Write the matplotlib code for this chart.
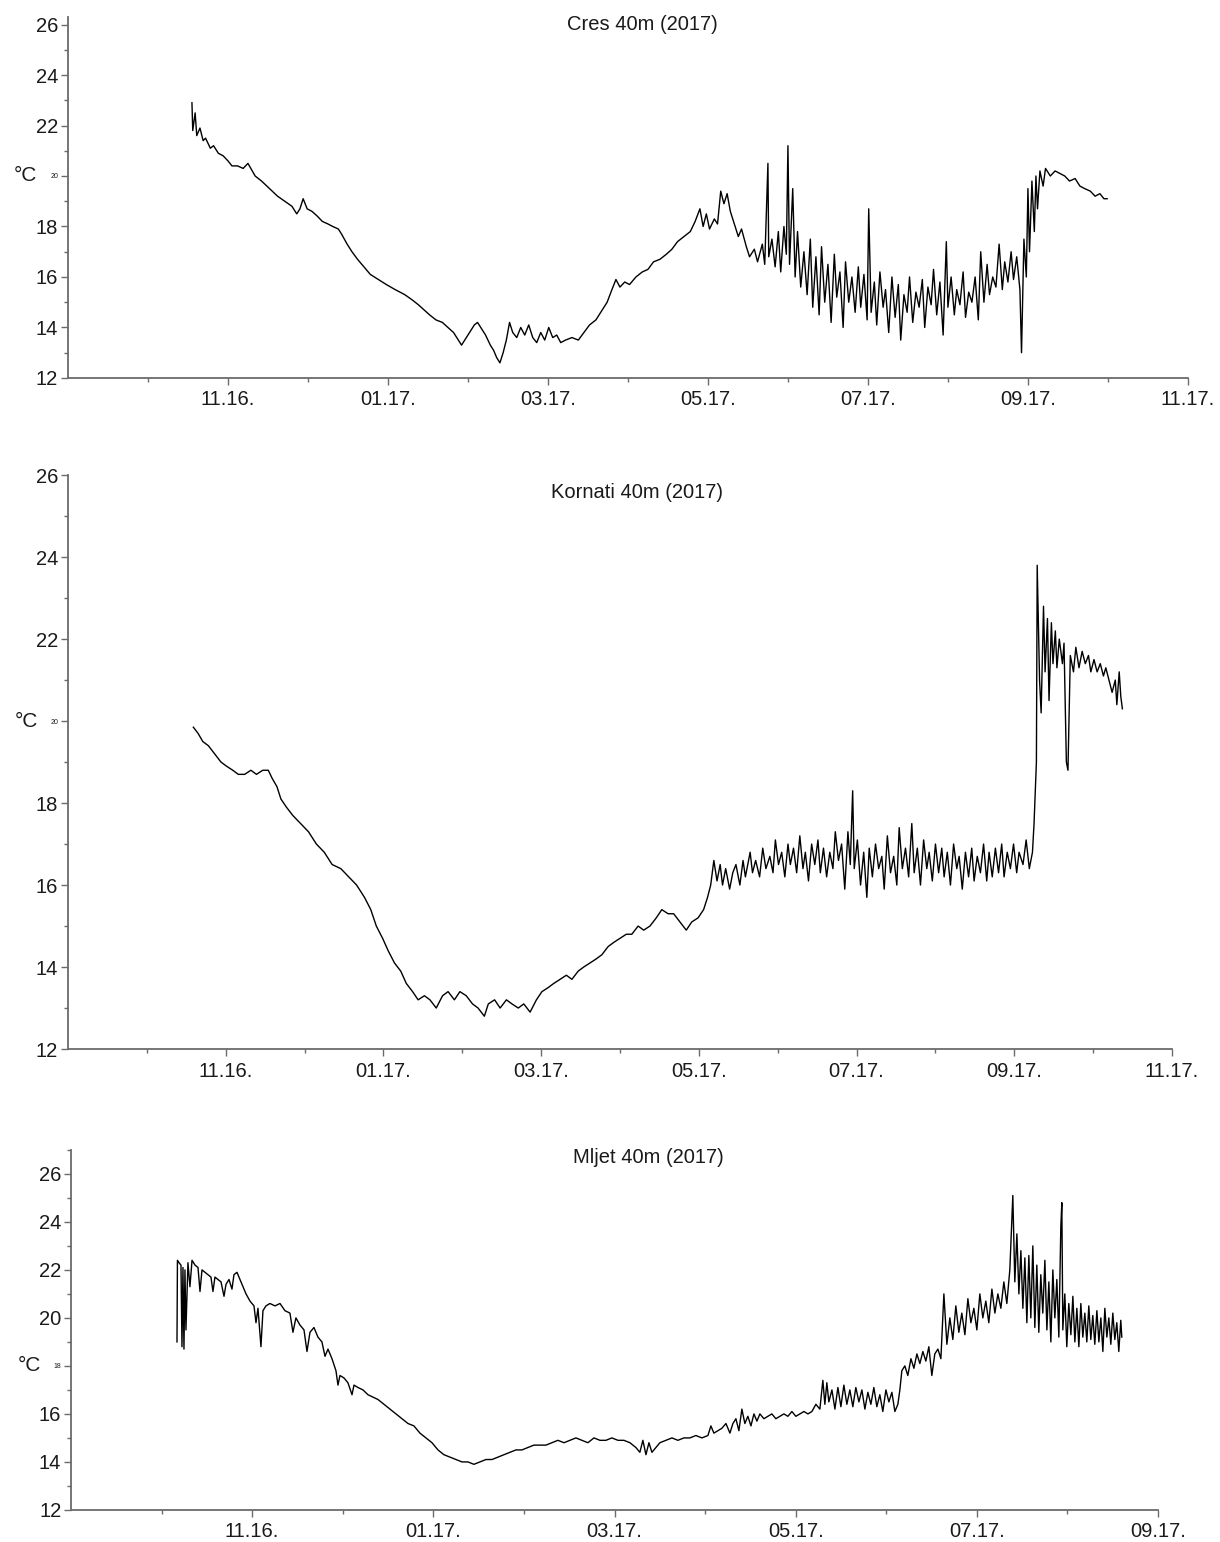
import matplotlib
matplotlib.use("Agg")
import matplotlib.pyplot as plt
from matplotlib.ticker import FixedLocator, MultipleLocator

plt.rcParams["font.family"] = ["Liberation Sans", "DejaVu Sans"]

# x values: months since 09.2016 (0 = 09.16., 2 = 11.16., ...)
tick_months = [2, 4, 6, 8, 10, 12, 14]
tick_labels = ["11.16.", "01.17.", "03.17.", "05.17.", "07.17.", "09.17.", "11.17."]

cres_x = [
    1.55, 1.56, 1.59, 1.61, 1.65, 1.69, 1.72, 1.78, 1.82, 1.88, 1.94, 2.00, 2.05, 2.12, 2.19, 2.25,
    2.34, 2.42, 2.52, 2.62, 2.71, 2.80, 2.86, 2.90, 2.94, 2.99, 3.05, 3.12, 3.18, 3.25, 3.31, 3.38,
    3.42, 3.49, 3.55, 3.62, 3.70, 3.78, 3.88, 3.98, 4.09, 4.21, 4.30, 4.38, 4.45, 4.52, 4.60, 4.68,
    4.75, 4.82, 4.88, 4.92, 4.98, 5.02, 5.08, 5.12, 5.18, 5.22, 5.28, 5.32, 5.36, 5.40, 5.44, 5.48,
    5.52, 5.56, 5.61, 5.66, 5.71, 5.76, 5.81, 5.86, 5.91, 5.96, 6.01, 6.06, 6.11, 6.16, 6.22, 6.30,
    6.38, 6.45, 6.52, 6.60, 6.68, 6.74, 6.80, 6.85, 6.90, 6.96, 7.02, 7.10, 7.18, 7.25, 7.32, 7.40,
    7.48, 7.55, 7.62, 7.70, 7.78, 7.84, 7.90, 7.94, 7.98, 8.02, 8.08, 8.12, 8.16, 8.20, 8.24, 8.28,
    8.32, 8.38, 8.42, 8.48, 8.52, 8.58, 8.62, 8.68, 8.71, 8.75, 8.76, 8.80, 8.84, 8.88, 8.91, 8.95,
    8.98, 9.00, 9.02, 9.06, 9.09, 9.12, 9.16, 9.20, 9.24, 9.28, 9.31, 9.35, 9.39, 9.42, 9.46, 9.50,
    9.54, 9.58, 9.61, 9.65, 9.69, 9.72, 9.76, 9.80, 9.84, 9.88, 9.91, 9.95, 9.99, 10.01, 10.04, 10.08,
    10.11, 10.15, 10.19, 10.22, 10.26, 10.30, 10.34, 10.38, 10.41, 10.45, 10.49, 10.52, 10.56, 10.60,
    10.64, 10.68, 10.71, 10.75, 10.79, 10.82, 10.86, 10.90, 10.94, 10.98, 11.00, 11.04, 11.08, 11.11,
    11.15, 11.19, 11.22, 11.26, 11.30, 11.34, 11.38, 11.41, 11.45, 11.49, 11.52, 11.56, 11.60, 11.64,
    11.68, 11.71, 11.75, 11.79, 11.82, 11.86, 11.90, 11.92, 11.95, 11.98, 12.00, 12.02, 12.05, 12.08,
    12.10, 12.12, 12.15, 12.19, 12.22, 12.28, 12.34, 12.40, 12.46, 12.52, 12.59, 12.65, 12.71, 12.78,
    12.84, 12.90, 12.95, 12.99,
]
cres_t = [
    22.9, 21.8, 22.5, 21.6, 21.9, 21.4, 21.5, 21.1, 21.2, 20.9, 20.8, 20.6, 20.4, 20.4, 20.3, 20.5,
    20.0, 19.8, 19.5, 19.2, 19.0, 18.8, 18.5, 18.7, 19.1, 18.7, 18.6, 18.4, 18.2, 18.1, 18.0, 17.9,
    17.7, 17.3, 17.0, 16.7, 16.4, 16.1, 15.9, 15.7, 15.5, 15.3, 15.1, 14.9, 14.7, 14.5, 14.3, 14.2,
    14.0, 13.8, 13.5, 13.3, 13.6, 13.8, 14.1, 14.2, 13.9, 13.7, 13.3, 13.1, 12.8, 12.6, 13.0, 13.5,
    14.2, 13.8, 13.6, 14.0, 13.7, 14.1, 13.6, 13.4, 13.8, 13.5, 14.0, 13.6, 13.7, 13.4, 13.5, 13.6,
    13.5, 13.8, 14.1, 14.3, 14.7, 15.0, 15.5, 15.9, 15.6, 15.8, 15.7, 16.0, 16.2, 16.3, 16.6, 16.7,
    16.9, 17.1, 17.4, 17.6, 17.8, 18.2, 18.7, 18.0, 18.5, 17.9, 18.3, 18.1, 19.4, 18.9, 19.3, 18.6,
    18.2, 17.6, 17.9, 17.2, 16.8, 17.1, 16.6, 17.3, 16.5, 20.5, 16.8, 17.5, 16.4, 17.8, 16.2, 18.0,
    16.9, 21.2, 16.5, 19.5, 16.0, 17.8, 15.6, 17.0, 15.3, 17.5, 14.8, 16.8, 14.5, 17.2, 15.0, 16.5,
    14.2, 16.9, 15.2, 16.2, 14.0, 16.6, 15.0, 16.0, 14.6, 16.4, 14.8, 16.1, 14.3, 18.7, 14.6, 15.8,
    14.1, 16.2, 14.8, 15.5, 13.8, 16.0, 14.4, 15.7, 13.5, 15.3, 14.6, 16.0, 14.2, 15.4,
    14.8, 15.9, 14.0, 15.6, 14.9, 16.3, 14.5, 15.8, 13.7, 17.4, 14.8, 16.0, 14.5, 15.5,
    14.9, 16.2, 14.4, 15.4, 15.0, 16.0, 14.3, 17.0, 15.0, 16.5, 15.3, 16.0, 15.6, 17.3,
    15.5, 16.6, 15.8, 17.0, 15.9, 16.8, 15.5, 13.0, 17.5, 16.0, 19.5, 17.0, 19.8, 17.8,
    20.0, 18.7, 20.2, 19.6, 20.3, 20.0, 20.2, 20.1, 20.0, 19.8, 19.9, 19.6, 19.5, 19.4,
    19.2, 19.3, 19.1, 19.1,
]

kornati_x = [
    1.59, 1.65, 1.71, 1.78, 1.86, 1.94, 2.01, 2.09, 2.16, 2.24, 2.32, 2.39, 2.47, 2.54, 2.59, 2.65,
    2.70, 2.77, 2.85, 2.95, 3.05, 3.15, 3.25, 3.35, 3.46, 3.56, 3.66, 3.76, 3.84, 3.91, 3.99, 4.06,
    4.14, 4.22, 4.29, 4.37, 4.44, 4.52, 4.59, 4.67, 4.75, 4.82, 4.90, 4.97, 5.05, 5.13, 5.20, 5.28,
    5.33, 5.41, 5.48, 5.56, 5.63, 5.71, 5.78, 5.86, 5.94, 6.01, 6.09, 6.16, 6.24, 6.32, 6.39, 6.47,
    6.54, 6.62, 6.70, 6.77, 6.85, 6.92, 7.00, 7.08, 7.15, 7.23, 7.30, 7.38, 7.46, 7.53, 7.61, 7.68,
    7.76, 7.84, 7.91, 7.99, 8.06, 8.11, 8.15, 8.19, 8.23, 8.27, 8.30, 8.34, 8.39, 8.43, 8.47, 8.52,
    8.56, 8.59, 8.65, 8.68, 8.72, 8.77, 8.81, 8.85, 8.90, 8.94, 8.97, 9.01, 9.05, 9.09, 9.13, 9.16,
    9.20, 9.24, 9.28, 9.32, 9.35, 9.39, 9.43, 9.47, 9.51, 9.54, 9.58, 9.62, 9.66, 9.70, 9.73, 9.77,
    9.81, 9.85, 9.89, 9.92, 9.95, 9.97, 10.01, 10.05, 10.09, 10.13, 10.16, 10.20, 10.24, 10.28,
    10.32, 10.35, 10.39, 10.43, 10.47, 10.51, 10.54, 10.58, 10.62, 10.66, 10.70, 10.73, 10.77, 10.81,
    10.85, 10.89, 10.92, 10.96, 11.00, 11.04, 11.08, 11.11, 11.15, 11.19, 11.23, 11.27, 11.30, 11.34,
    11.38, 11.42, 11.46, 11.49, 11.53, 11.57, 11.61, 11.65, 11.68, 11.72, 11.76, 11.80, 11.84, 11.87,
    11.91, 11.95, 11.99, 12.03, 12.06, 12.11, 12.15, 12.19, 12.23, 12.25, 12.28, 12.29, 12.32, 12.34,
    12.37, 12.39, 12.42, 12.44, 12.47, 12.49, 12.52, 12.54, 12.57, 12.61, 12.63, 12.66, 12.68, 12.71,
    12.75, 12.78, 12.82, 12.86, 12.90, 12.94, 12.97, 13.01, 13.05, 13.09, 13.13, 13.16, 13.20, 13.24,
    13.28, 13.30, 13.33, 13.35, 13.37,
]
kornati_t = [
    19.85, 19.7, 19.5, 19.4, 19.2, 19.0, 18.9, 18.8, 18.7, 18.7, 18.8, 18.7, 18.8, 18.8, 18.6, 18.4,
    18.1, 17.9, 17.7, 17.5, 17.3, 17.0, 16.8, 16.5, 16.4, 16.2, 16.0, 15.7, 15.4, 15.0, 14.7, 14.4,
    14.1, 13.9, 13.6, 13.4, 13.2, 13.3, 13.2, 13.0, 13.3, 13.4, 13.2, 13.4, 13.3, 13.1, 13.0, 12.8,
    13.1, 13.2, 13.0, 13.2, 13.1, 13.0, 13.1, 12.9, 13.2, 13.4, 13.5, 13.6, 13.7, 13.8, 13.7, 13.9,
    14.0, 14.1, 14.2, 14.3, 14.5, 14.6, 14.7, 14.8, 14.8, 15.0, 14.9, 15.0, 15.2, 15.4, 15.3, 15.3,
    15.1, 14.9, 15.1, 15.2, 15.4, 15.7, 16.0, 16.6, 16.1, 16.5, 16.0, 16.4, 15.9, 16.3, 16.5, 16.0,
    16.6, 16.2, 16.8, 16.3, 16.6, 16.2, 16.9, 16.4, 16.7, 16.3, 17.1, 16.5, 16.8, 16.2, 17.0, 16.5,
    16.9, 16.3, 17.2, 16.4, 16.8, 16.1, 17.0, 16.5, 17.1, 16.3, 16.9, 16.2, 16.8, 16.4, 17.3, 16.6,
    17.0, 15.9, 17.3, 16.5, 18.3, 16.4, 17.1, 16.0, 16.8, 15.7, 16.9, 16.2, 17.0, 16.4,
    16.7, 15.9, 17.2, 16.3, 16.7, 16.0, 17.4, 16.4, 16.9, 16.2, 17.5, 16.3, 16.9, 16.0,
    17.1, 16.4, 16.8, 16.1, 17.0, 16.3, 16.9, 16.2, 16.8, 16.0, 17.0, 16.4, 16.7, 15.9,
    16.8, 16.2, 16.9, 16.1, 16.7, 16.3, 17.0, 16.1, 16.8, 16.2, 16.9, 16.3, 17.0, 16.2,
    16.8, 16.4, 17.0, 16.3, 16.8, 16.5, 17.1, 16.4, 16.8, 17.5, 19.0, 23.8, 21.0, 20.2,
    22.8, 21.2, 22.5, 20.5, 22.4, 21.4, 22.2, 21.3, 22.0, 21.4, 21.9, 19.0, 18.8, 21.6,
    21.2, 21.8, 21.3, 21.7, 21.4, 21.6, 21.2, 21.5, 21.2, 21.4, 21.1, 21.3, 21.0, 20.7,
    21.0, 20.4, 21.2, 20.6, 20.3,
]

mljet_x = [
    1.170, 1.175, 1.192, 1.214, 1.225, 1.236, 1.247, 1.258, 1.269, 1.291, 1.313, 1.336, 1.369, 1.402,
    1.424, 1.446, 1.479, 1.512, 1.545, 1.567, 1.589, 1.623, 1.656, 1.689, 1.711, 1.744, 1.777, 1.799,
    1.832, 1.865, 1.898, 1.932, 1.976, 2.020, 2.042, 2.064, 2.097, 2.119, 2.152, 2.196, 2.252, 2.307,
    2.362, 2.417, 2.450, 2.483, 2.528, 2.572, 2.605, 2.638, 2.682, 2.726, 2.770, 2.804, 2.837, 2.881,
    2.925, 2.947, 2.969, 3.013, 3.057, 3.102, 3.124, 3.168, 3.223, 3.278, 3.333, 3.389, 3.455, 3.521,
    3.587, 3.653, 3.720, 3.786, 3.852, 3.918, 3.985, 4.051, 4.117, 4.183, 4.249, 4.316, 4.382, 4.448,
    4.514, 4.581, 4.647, 4.713, 4.779, 4.845, 4.912, 4.978, 5.044, 5.110, 5.177, 5.243, 5.309, 5.375,
    5.442, 5.508, 5.574, 5.640, 5.706, 5.773, 5.839, 5.905, 5.971, 6.038, 6.104, 6.170, 6.236, 6.280,
    6.313, 6.347, 6.380, 6.413, 6.457, 6.501, 6.567, 6.634, 6.700, 6.766, 6.832, 6.898, 6.965, 7.031,
    7.064, 7.097, 7.141, 7.185, 7.230, 7.274, 7.307, 7.340, 7.373, 7.406, 7.439, 7.472, 7.506, 7.539,
    7.572, 7.605, 7.649, 7.693, 7.737, 7.781, 7.826, 7.870, 7.914, 7.958, 8.002, 8.046, 8.091, 8.135,
    8.179, 8.223, 8.267, 8.300, 8.322, 8.344, 8.366, 8.400, 8.433, 8.466, 8.499, 8.532, 8.565, 8.598,
    8.631, 8.664, 8.698, 8.731, 8.764, 8.797, 8.830, 8.863, 8.896, 8.929, 8.962, 8.996, 9.029, 9.062,
    9.095, 9.128, 9.150, 9.172, 9.205, 9.238, 9.272, 9.305, 9.338, 9.371, 9.404, 9.437, 9.470, 9.503,
    9.536, 9.570, 9.603, 9.636, 9.669, 9.702, 9.735, 9.768, 9.801, 9.834, 9.868, 9.901, 9.934, 9.967,
    10.000, 10.033, 10.066, 10.099, 10.132, 10.166, 10.199, 10.232, 10.265, 10.298, 10.331, 10.364,
    10.386, 10.397, 10.419, 10.442, 10.464, 10.486, 10.508, 10.530, 10.552, 10.574, 10.596, 10.618,
    10.640, 10.662, 10.684, 10.706, 10.728, 10.751, 10.773, 10.795, 10.817, 10.839, 10.861, 10.883,
    10.905, 10.927, 10.938, 10.949, 10.971, 10.993, 11.015, 11.038, 11.060, 11.082, 11.104, 11.126,
    11.148, 11.170, 11.192, 11.214, 11.236, 11.258, 11.280, 11.302, 11.325, 11.347, 11.369, 11.391,
    11.413, 11.435, 11.457, 11.479, 11.501, 11.523, 11.545, 11.567, 11.589, 11.600,
]
mljet_t = [
    19.0, 22.4, 22.3, 22.2, 18.8, 22.1, 18.7, 22.0, 19.5, 22.3, 21.3, 22.4, 22.2, 22.1,
    21.1, 22.0, 21.9, 21.8, 21.7, 21.1, 21.7, 21.6, 21.5, 20.9, 21.4, 21.6, 21.2, 21.8,
    21.9, 21.6, 21.3, 21.0, 20.7, 20.5, 19.8, 20.4, 18.8, 20.3, 20.5, 20.6, 20.5, 20.6,
    20.3, 20.2, 19.4, 20.0, 19.7, 19.5, 18.6, 19.4, 19.6, 19.2, 19.0, 18.4, 18.7, 18.3,
    17.8, 17.2, 17.6, 17.5, 17.3, 16.8, 17.2, 17.1, 17.0, 16.8, 16.7, 16.6, 16.4, 16.2,
    16.0, 15.8, 15.6, 15.5, 15.2, 15.0, 14.8, 14.5, 14.3, 14.2, 14.1, 14.0, 14.0, 13.9,
    14.0, 14.1, 14.1, 14.2, 14.3, 14.4, 14.5, 14.5, 14.6, 14.7, 14.7, 14.7, 14.8, 14.9,
    14.8, 14.9, 15.0, 14.9, 14.8, 15.0, 14.9, 14.9, 15.0, 14.9, 14.9, 14.8, 14.6, 14.4,
    14.9, 14.3, 14.8, 14.4, 14.6, 14.8, 14.9, 15.0, 14.9, 15.0, 15.0, 15.1, 15.0, 15.1,
    15.5, 15.2, 15.3, 15.4, 15.6, 15.2, 15.6, 15.8, 15.3, 16.2, 15.6, 15.9, 15.5, 16.0,
    15.7, 16.0, 15.8, 15.9, 16.0, 15.8, 15.9, 16.0, 15.9, 16.1, 15.9, 16.0, 16.1, 16.0,
    16.1, 16.4, 16.2, 17.4, 16.4, 17.3, 16.5, 17.0, 16.2, 17.1, 16.3, 17.2, 16.4, 17.0,
    16.3, 17.1, 16.5, 17.0, 16.2, 16.9, 16.4, 17.1, 16.3, 16.8, 16.1, 17.0, 16.5, 16.9,
    16.1, 16.4, 17.0, 17.8, 18.0, 17.6, 18.3, 17.9, 18.5, 18.1, 18.6, 18.2, 18.8, 17.6,
    18.5, 18.7, 18.3, 21.0, 18.9, 20.0, 19.1, 20.5, 19.4, 20.2, 19.3, 20.8, 19.8, 20.4,
    19.5, 21.0, 20.0, 20.7, 19.8, 21.2, 20.2, 21.0, 20.4, 21.5, 20.6, 22.0,
    24.0, 25.1, 21.5, 23.5, 21.0, 22.8, 20.4, 22.5, 19.8, 22.6, 20.0, 23.0,
    19.6, 22.2, 19.4, 21.8, 20.2, 22.4, 19.5, 21.5, 19.0, 22.0, 20.0, 21.6,
    19.2, 23.8, 24.8, 19.5, 21.0, 18.8, 20.6, 19.3, 20.9, 19.0, 20.4, 18.8,
    20.6, 19.2, 20.2, 19.0, 20.5, 19.1, 20.1, 18.9, 20.3, 19.0, 20.0, 18.6,
    20.4, 19.2, 20.0, 18.9, 20.2, 19.1, 19.8, 18.6, 19.9, 19.2,
]

panels = [
    # title, x, t, axes rect, x max, y max, small tick value, title pos
    ("Cres 40m (2017)", cres_x, cres_t, [0.0557, 0.7549, 0.918, 0.2341], 14, 26.3, 20, (0.513, 0.978)),
    ("Kornati 40m (2017)", kornati_x, kornati_t, [0.0557, 0.3197, 0.905, 0.3722], 14, 26.0, 20, (0.515, 0.969)),
    ("Mljet 40m (2017)", mljet_x, mljet_t, [0.0582, 0.0208, 0.891, 0.2335], 12, 27.0, 18, (0.531, 0.978)),
]

fig = plt.figure(figsize=(12.2, 15.42), dpi=100)
axis_col = "#6b6b6b"

for title, xs, ts, rect, xmax, ymax, small, tpos in panels:
    ax = fig.add_axes(rect)
    ax.plot(xs, ts, color="black", lw=1.0)
    ax.set_xlim(0, xmax)
    ax.set_ylim(12, ymax)

    for side in ("top", "right"):
        ax.spines[side].set_visible(False)
    for side in ("left", "bottom"):
        ax.spines[side].set_color(axis_col)
        ax.spines[side].set_linewidth(1.3)

    n = xmax // 2
    ax.xaxis.set_major_locator(FixedLocator(tick_months[:n]))
    ax.set_xticklabels(tick_labels[:n])
    ax.xaxis.set_minor_locator(FixedLocator(list(range(1, xmax, 2))))
    ax.yaxis.set_major_locator(FixedLocator(list(range(12, 27, 2))))
    ax.yaxis.set_minor_locator(MultipleLocator(1))
    ax.tick_params(which="major", length=5, width=1.0, color=axis_col, labelsize=14.5,
                   labelcolor="#1a1a1a")
    ax.tick_params(which="minor", length=3, width=1.0, color=axis_col)
    ax.tick_params(axis="x", which="major", pad=4)
    ax.tick_params(axis="y", which="major", pad=2)

    ylabels = ax.set_yticklabels([str(v) for v in range(12, 27, 2)])
    for lab, v in zip(ylabels, range(12, 27, 2)):
        if v == small:
            lab.set_fontsize(5)

    ax.text(-0.038, small, "°C", transform=ax.get_yaxis_transform(), ha="center",
            va="center", fontsize=15, color="#1a1a1a")
    ax.text(tpos[0], tpos[1], title, transform=ax.transAxes, ha="center", va="center",
            fontsize=14.5, color="#1a1a1a")

fig.savefig("out.png", dpi=100, facecolor="white")
